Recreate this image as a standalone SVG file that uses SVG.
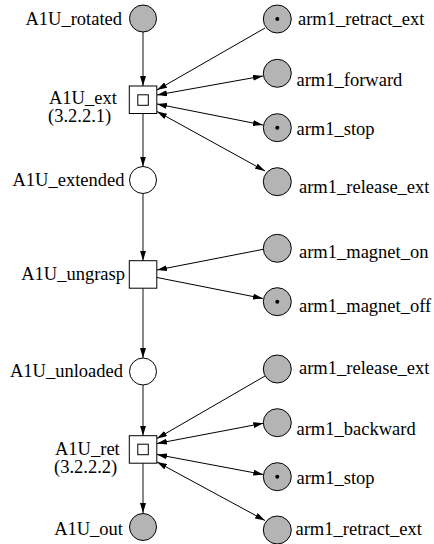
<svg xmlns="http://www.w3.org/2000/svg" width="434" height="544" viewBox="0 0 434 544">
<style>
text{font-family:"Liberation Serif","Times New Roman",serif;font-size:18.5px;fill:#000}
.lab{text-anchor:end}
.pl{fill:#b4b4b4;stroke:#000;stroke-width:1}
.pw{fill:#fff;stroke:#000;stroke-width:1}
.tr{fill:#fff;stroke:#000;stroke-width:1}
.tok{fill:#000}
.v{stroke:#555;stroke-width:1.4;fill:none}
.d{stroke:#000;stroke-width:1;fill:none}
</style>
<defs>
<marker id="ah" viewBox="0 0 10 6" refX="10" refY="3" markerWidth="10" markerHeight="6" markerUnits="userSpaceOnUse" orient="auto-start-reverse">
<path d="M0,0 L10,3 L0,6 z" fill="#000"/>
</marker>
</defs>
<g id="connectors">
<line class="v" x1="143" y1="32" x2="143" y2="86" marker-end="url(#ah)"/>
<line class="v" x1="143" y1="113.5" x2="143" y2="166.5" marker-end="url(#ah)"/>
<line class="v" x1="143" y1="193.5" x2="143" y2="260.7" marker-end="url(#ah)"/>
<line class="v" x1="143" y1="288.3" x2="143" y2="358" marker-end="url(#ah)"/>
<line class="v" x1="143" y1="385" x2="143" y2="435.7" marker-end="url(#ah)"/>
<line class="v" x1="143" y1="462.3" x2="143" y2="513" marker-end="url(#ah)"/>
<line class="d" x1="265" y1="28" x2="157" y2="90" marker-end="url(#ah)"/>
<line class="d" x1="157" y1="95" x2="263" y2="76" marker-start="url(#ah)" marker-end="url(#ah)"/>
<line class="d" x1="157" y1="104" x2="263" y2="125" marker-start="url(#ah)" marker-end="url(#ah)"/>
<line class="d" x1="157" y1="111.5" x2="265" y2="171" marker-start="url(#ah)" marker-end="url(#ah)"/>
<line class="d" x1="263.3" y1="249.3" x2="157" y2="270" marker-end="url(#ah)"/>
<line class="d" x1="157" y1="277.5" x2="263" y2="298.5" marker-end="url(#ah)"/>
<line class="d" x1="265" y1="376" x2="157" y2="438.5" marker-end="url(#ah)"/>
<line class="d" x1="157" y1="443.5" x2="263.3" y2="423.3" marker-start="url(#ah)" marker-end="url(#ah)"/>
<line class="d" x1="157" y1="454.5" x2="263.3" y2="474.5" marker-start="url(#ah)" marker-end="url(#ah)"/>
<line class="d" x1="157" y1="462" x2="265" y2="520.5" marker-start="url(#ah)" marker-end="url(#ah)"/>
</g>
<g id="A1U_rotated"><circle class="pl" cx="143" cy="18.5" r="13.5"/><text class="lab" x="122" y="24.5">A1U_rotated</text></g>
<g id="A1U_ext"><rect class="tr" x="129.3" y="86" width="27.5" height="27.5"/><rect class="tr" x="137.8" y="94.8" width="10.5" height="10.5"/><text x="49" y="104">A1U_ext</text><text x="48" y="122">(3.2.2.1)</text></g>
<g id="A1U_extended"><circle class="pw" cx="143" cy="180" r="13.5"/><text class="lab" x="124.5" y="185.5">A1U_extended</text></g>
<g id="A1U_ungrasp"><rect class="tr" x="129.3" y="260.7" width="27.5" height="27.5"/><text class="lab" x="125" y="279.5">A1U_ungrasp</text></g>
<g id="A1U_unloaded"><circle class="pw" cx="143" cy="371.5" r="13.5"/><text class="lab" x="123" y="377">A1U_unloaded</text></g>
<g id="A1U_ret"><rect class="tr" x="129.3" y="435.7" width="27.5" height="27.5"/><rect class="tr" x="137.8" y="444.2" width="10.5" height="10.5"/><text x="55" y="454.5">A1U_ret</text><text x="54" y="473">(3.2.2.2)</text></g>
<g id="A1U_out"><circle class="pl" cx="143" cy="527" r="13.5"/><text class="lab" x="123" y="535">A1U_out</text></g>
<g id="arm1_retract_ext_1"><circle class="pl" cx="277.3" cy="19" r="14"/><circle class="tok" cx="277.3" cy="19" r="2"/><text x="298" y="25">arm1_retract_ext</text></g>
<g id="arm1_forward"><circle class="pl" cx="277.3" cy="73.3" r="14"/><text x="296.5" y="86">arm1_forward</text></g>
<g id="arm1_stop_1"><circle class="pl" cx="277.3" cy="127.7" r="14"/><circle class="tok" cx="277.3" cy="127.7" r="2"/><text x="296.5" y="135">arm1_stop</text></g>
<g id="arm1_release_ext_1"><circle class="pl" cx="277.3" cy="181.7" r="14"/><text x="299" y="193">arm1_release_ext</text></g>
<g id="arm1_magnet_on"><circle class="pl" cx="277.3" cy="248.3" r="14"/><text x="299" y="258">arm1_magnet_on</text></g>
<g id="arm1_magnet_off"><circle class="pl" cx="277.3" cy="301.7" r="14"/><circle class="tok" cx="277.3" cy="301.7" r="2"/><text x="299" y="311.5">arm1_magnet_off</text></g>
<g id="arm1_release_ext_2"><circle class="pl" cx="277.3" cy="369" r="14"/><text x="299" y="373.5">arm1_release_ext</text></g>
<g id="arm1_backward"><circle class="pl" cx="277.3" cy="422.7" r="14"/><text x="296.5" y="435">arm1_backward</text></g>
<g id="arm1_stop_2"><circle class="pl" cx="277.3" cy="476.7" r="14"/><circle class="tok" cx="277.3" cy="476.7" r="2"/><text x="296.5" y="483.5">arm1_stop</text></g>
<g id="arm1_retract_ext_2"><circle class="pl" cx="277.3" cy="530" r="14"/><text x="295.5" y="535">arm1_retract_ext</text></g>
</svg>
